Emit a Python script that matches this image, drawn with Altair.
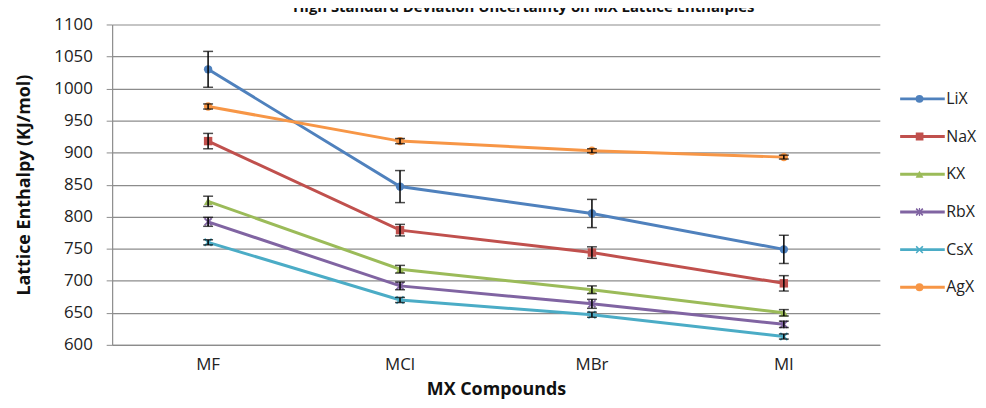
import altair as alt
import pandas as pd

compounds = ["MF", "MCl", "MBr", "MI"]
series = ["LiX", "NaX", "KX", "RbX", "CsX", "AgX"]

lix = [1030, 847, 805, 749]
nax = [918, 779, 744, 696]
kx = [824, 718, 686, 650]
rbx = [792, 692, 664, 632]
csx = [760, 670, 647, 613]
agx = [972, 918, 903, 893]

lix_err = [28, 25, 22, 22]
nax_err = [12, 9, 9, 12]
kx_err = [8, 6, 6, 5]
rbx_err = [7, 6, 7, 5]
csx_err = [4, 4, 4, 4]
agx_err = [4, 4, 3, 3]

y_ticks = [600, 650, 700, 750, 800, 850, 900, 950, 1000, 1050, 1100]

colors = ["#4F81BD", "#C0504D", "#9BBB59", "#8064A2", "#4BACC6", "#F79646"]
x_path = "M-1,-0.7L-0.7,-1L0,-0.3L0.7,-1L1,-0.7L0.3,0L1,0.7L0.7,1L0,0.3L-0.7,1L-1,0.7L-0.3,0Z"
star_path = x_path + "M-0.15,-1L0.15,-1L0.15,1L-0.15,1Z"
shapes = ["circle", "square", "triangle-up", star_path, x_path, "circle"]

values = [lix, nax, kx, rbx, csx, agx]
errors = [lix_err, nax_err, kx_err, rbx_err, csx_err, agx_err]

rows = []
for s, vals, errs in zip(series, values, errors):
    for c, v, e in zip(compounds, vals, errs):
        rows.append({"Series": s, "Compound": c, "Value": v, "Lo": v - e, "Hi": v + e})
df = pd.DataFrame(rows)

FONT = "Open Sans"
GRID = "#8c8c8c"

x_axis = alt.Axis(
    title="MX Compounds", labelAngle=0, ticks=False, labelPadding=12,
    labelFontSize=17, labelFont=FONT, labelColor="#222222",
    titleFontSize=18, titleFont=FONT, titleFontWeight="bold", titleColor="#111111",
    titlePadding=8, domainColor=GRID, domainWidth=1.2,
)
y_axis = alt.Axis(
    title="Lattice Enthalpy (KJ/mol)", values=y_ticks, tickCount=len(y_ticks),
    format="d", labelOverlap=False,
    grid=True, gridColor=GRID, gridWidth=1.2, tickColor=GRID, tickSize=6,
    domainColor=GRID, domainWidth=1.2,
    labelFontSize=17, labelFont=FONT, labelColor="#222222", labelPadding=14,
    titleFontSize=18, titleFont=FONT, titleFontWeight="bold", titleColor="#111111",
    titlePadding=20,
)
x_scale = alt.Scale(paddingInner=0, paddingOuter=0)
y_scale = alt.Scale(domain=[600, 1100], nice=False, zero=False)


def xe():
    return alt.X("Compound:N", sort=compounds, scale=x_scale, axis=x_axis)


def ye(field):
    return alt.Y(field, scale=y_scale, axis=y_axis)


color_scale = alt.Scale(domain=series, range=colors)
shape_scale = alt.Scale(domain=series, range=shapes)

line_legend = alt.Legend(
    title=None, orient="none", legendX=793, legendY=56, symbolType="stroke",
    symbolSize=2025, symbolStrokeWidth=3, clipHeight=38, rowPadding=0, padding=0,
    labelFontSize=16, labelFont=FONT, labelColor="#222222", labelOffset=0,
)
point_legend = alt.Legend(
    title=None, orient="none", legendX=810, legendY=56, clipHeight=38, rowPadding=0,
    padding=0, labelExpr="''", symbolSize=64, symbolStrokeWidth=0, labelFontSize=1,
)

base = alt.Chart(df)

lines = base.mark_line(strokeWidth=3).encode(
    x=xe(), y=ye("Value:Q"),
    color=alt.Color("Series:N", scale=color_scale, legend=line_legend),
    detail="Series:N",
)

points = base.mark_point(filled=True, size=72, opacity=1).encode(
    x=xe(), y=ye("Value:Q"),
    color=alt.Color("Series:N", scale=color_scale, legend=point_legend),
    shape=alt.Shape("Series:N", scale=shape_scale, legend=point_legend),
)

err_rule = base.mark_rule(color="black", strokeWidth=1.5).encode(
    x=xe(), y=ye("Lo:Q"), y2="Hi:Q"
)
err_lo = base.mark_tick(color="black", thickness=1.5, size=10).encode(
    x=xe(), y=ye("Lo:Q")
)
err_hi = base.mark_tick(color="black", thickness=1.5, size=10).encode(
    x=xe(), y=ye("Hi:Q")
)

chart = alt.layer(lines, points, err_rule, err_lo, err_hi).resolve_legend(
    color="independent", shape="independent"
).properties(
    width=774, height=323,
    title=alt.TitleParams(
        "High Standard Deviation Uncertainty on MX Lattice Enthalpies",
        fontSize=15, font=FONT, fontWeight="bold", color="#111111",
        anchor="middle", frame="group", offset=1, dx=28,
    ),
    autosize=alt.AutoSizeParams(type="none"),
    padding={"left": 105, "top": 15, "right": 99, "bottom": 55},
    background="white",
).configure_view(stroke=None)

chart.save("out.html", embed_options={"renderer": "svg", "actions": False})
